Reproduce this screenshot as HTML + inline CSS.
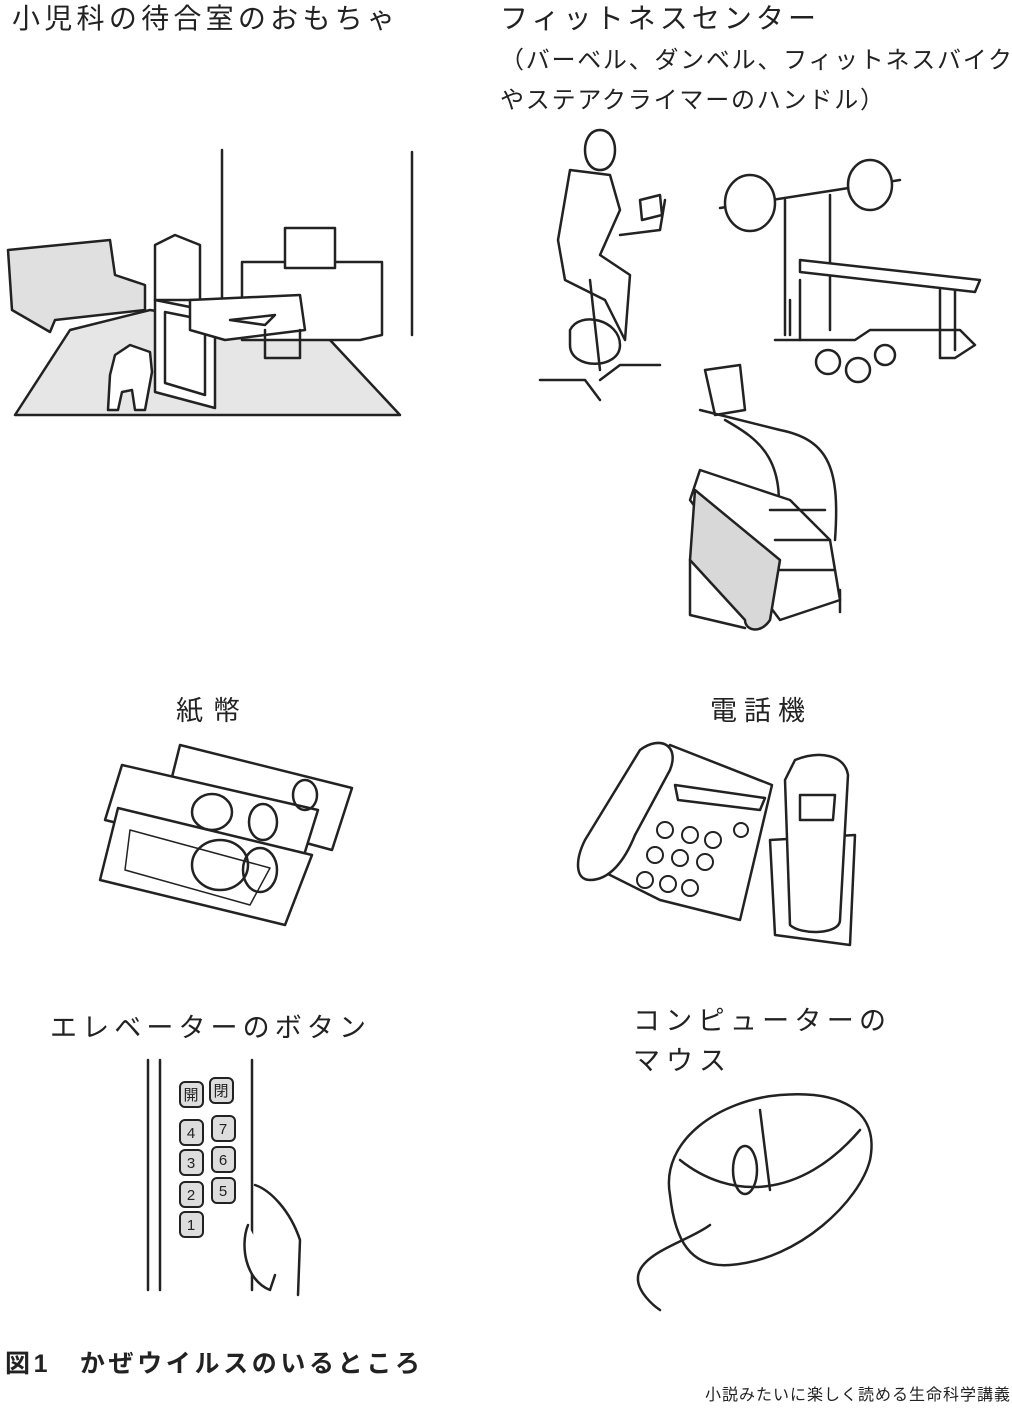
<!DOCTYPE html>
<html><head><meta charset="utf-8"><style>
html,body{margin:0;padding:0;background:#fff;}
body{width:1012px;height:1417px;overflow:hidden;}
svg text{font-family:"Liberation Sans","Noto Sans CJK JP",sans-serif;fill:#222;}
</style></head><body>
<svg width="1012" height="1417" viewBox="0 0 1012 1417" xmlns="http://www.w3.org/2000/svg">
<g stroke="#222" stroke-width="2.5" fill="none" stroke-linejoin="round" stroke-linecap="round">
<!-- waiting room -->
<path d="M222 150 V330 M412 152 V335"/>
<path d="M15 415 H400 L330 340 L150 310 L70 330 Z" fill="#e6e6e6"/>
<path d="M8 250 L110 240 L115 275 L145 285 L145 310 L55 320 L50 332 L12 310 Z" fill="#e0e0e0"/>
<path d="M242 262 H382 V335 L360 340 H242 Z" fill="#fff"/>
<path d="M285 228 H335 V268 H285 Z" fill="#fff"/>
<path d="M155 245 L175 235 L200 245 V300 H155 Z" fill="#fff"/>
<path d="M155 300 L215 312 V408 L155 392 Z" fill="#fff"/>
<path d="M165 312 L205 320 V395 L165 383 Z"/>
<path d="M190 300 L300 295 L305 330 L225 340 L190 330 Z" fill="#fff"/>
<path d="M265 330 V358 H300 V330"/>
<path d="M230 320 L275 315 L265 325 Z" fill="#fff"/>
<path d="M115 355 L130 345 L150 352 L152 372 L145 410 H135 L132 390 L122 392 L118 410 H108 L110 375 Z" fill="#fff"/>
<!-- bike -->
<path d="M600 130 C620 130 620 170 600 170 C580 170 580 130 600 130 Z" fill="#fff"/>
<path d="M570 170 L610 175 L620 210 L600 255 L630 275 L625 340 L605 300 L565 280 L558 240 Z" fill="#fff"/>
<path d="M540 380 H585 L600 400 M600 380 L620 365 H660"/>
<path d="M570 330 C580 310 620 320 620 345 C620 370 570 370 570 345 Z" fill="#fff"/>
<path d="M590 280 L600 370 M620 235 L660 230 L665 200"/>
<path d="M640 200 L660 195 L662 215 L642 220 Z" fill="#fff"/>
<!-- barbell -->
<path d="M720 208 L900 180"/>
<ellipse cx="750" cy="203" rx="25" ry="28" fill="#fff"/>
<ellipse cx="870" cy="185" rx="22" ry="25" fill="#fff"/>
<path d="M785 200 V335 M830 195 V330"/>
<path d="M800 260 L980 280 L975 292 L800 272 Z" fill="#fff"/>
<path d="M775 340 H855 L870 330 H960 L975 345 L955 358 H940 V290 M790 300 V335 M955 290 V350"/>
<path d="M800 280 L800 340" />
<circle cx="828" cy="362" r="12" fill="#fff"/><circle cx="858" cy="370" r="12" fill="#fff"/><circle cx="885" cy="355" r="10" fill="#fff"/>
<!-- stair climber -->
<path d="M705 370 L740 365 L745 410 L715 415 Z" fill="#fff"/>
<path d="M700 410 L780 430 C830 440 840 470 835 540 M725 420 C760 440 790 460 775 540"/>
<path d="M690 500 L700 470 L760 490 L790 500 L830 540 L840 600 L780 620 Z" fill="#fff"/>
<path d="M695 490 L780 560 L770 620 C760 635 745 630 745 620 L690 560 Z" fill="#d8d8d8"/>
<path d="M690 560 V615 L745 628 M840 590 V612"/>
<path d="M770 510 H825 M775 540 H830 M780 570 H835"/>
<!-- money -->
<g fill="#fff">
<path d="M180 745 L352 788 L332 850 L165 805 Z"/>
<path d="M122 765 L318 810 L300 868 L105 820 Z"/>
<path d="M118 808 L312 855 L285 925 L100 880 Z"/>
</g>
<ellipse cx="220" cy="865" rx="28" ry="25"/>
<ellipse cx="260" cy="870" rx="17" ry="22"/>
<ellipse cx="263" cy="822" rx="14" ry="18"/>
<ellipse cx="305" cy="795" rx="12" ry="15"/>
<ellipse cx="212" cy="812" rx="20" ry="18"/>
<path d="M130 830 L270 868 L250 905 L125 870 Z" stroke-width="1.5"/>
<!-- phone -->
<path d="M670 745 L772 785 L740 920 L660 900 L600 870 L620 820 Z" fill="#fff"/>
<path d="M640 750 C660 735 680 745 670 770 L635 835 C625 860 610 880 590 880 C575 880 575 860 585 840 Z" fill="#fff"/>
<path d="M675 785 L765 798 L760 810 L678 800 Z"/>
<g fill="#fff" stroke-width="2">
<circle cx="665" cy="830" r="8"/><circle cx="690" cy="835" r="8"/><circle cx="713" cy="840" r="8"/>
<circle cx="655" cy="855" r="8"/><circle cx="680" cy="858" r="8"/><circle cx="705" cy="862" r="8"/>
<circle cx="645" cy="880" r="8"/><circle cx="668" cy="884" r="8"/><circle cx="690" cy="888" r="8"/>
<circle cx="741" cy="830" r="7"/>
</g>
<path d="M770 840 L855 835 L850 945 L775 935 Z" fill="#fff"/>
<path d="M795 760 C820 750 845 755 848 775 L840 920 C840 935 800 935 790 925 L785 780 Z" fill="#fff"/>
<path d="M800 795 L835 795 L833 820 L800 820 Z"/>
<!-- elevator -->
<path d="M148 1060 V1290 M160 1060 V1290 M252 1060 V1290"/>
<g fill="#ddd" stroke-width="2">
<rect x="180" y="1082" width="23" height="25" rx="5"/><rect x="210" y="1078" width="23" height="25" rx="5"/>
<rect x="180" y="1120" width="23" height="25" rx="5"/><rect x="212" y="1116" width="23" height="25" rx="5"/>
<rect x="180" y="1150" width="23" height="25" rx="5"/><rect x="212" y="1147" width="23" height="25" rx="5"/>
<rect x="180" y="1182" width="23" height="25" rx="5"/><rect x="212" y="1178" width="23" height="25" rx="5"/>
<rect x="180" y="1212" width="23" height="25" rx="5"/>
</g>
<path d="M255 1185 C270 1190 290 1210 300 1240 L298 1295 M248 1225 C240 1245 245 1280 270 1290 L275 1275" fill="#fff"/>
<!-- mouse -->
<path d="M670 1195 C660 1140 720 1100 780 1095 C840 1090 880 1110 870 1160 C860 1200 800 1260 730 1265 C690 1268 675 1240 670 1195 Z" fill="#fff"/>
<path d="M680 1160 C730 1200 800 1200 860 1130 M760 1110 L770 1190"/>
<ellipse cx="745" cy="1170" rx="12" ry="24"/>
<path d="M710 1225 C690 1240 650 1250 640 1270 C630 1290 660 1310 660 1310"/>
</g>
<text x="12" y="28" font-size="28" textLength="383" lengthAdjust="spacing">小児科の待合室のおもちゃ</text>
<text x="500" y="28" font-size="28" textLength="316" lengthAdjust="spacing">フィットネスセンター</text>
<text x="500" y="68" font-size="24" textLength="512" lengthAdjust="spacing">（バーベル、ダンベル、フィットネスバイク</text>
<text x="500" y="108" font-size="24" textLength="384" lengthAdjust="spacing">やステアクライマーのハンドル）</text>
<text x="176" y="720" font-size="27" textLength="64" lengthAdjust="spacing">紙幣</text>
<text x="710" y="720" font-size="27" textLength="95" lengthAdjust="spacing">電話機</text>
<text x="50" y="1037" font-size="27" textLength="316" lengthAdjust="spacing">エレベーターのボタン</text>
<text x="633" y="1030" font-size="27" textLength="253" lengthAdjust="spacing">コンピューターの</text>
<text x="633" y="1070" font-size="27" textLength="93" lengthAdjust="spacing">マウス</text>
<g font-size="15" text-anchor="middle">
<text x="191" y="1100">開</text><text x="221" y="1096">閉</text>
<text x="191" y="1138">4</text><text x="223" y="1134">7</text>
<text x="191" y="1168">3</text><text x="223" y="1165">6</text>
<text x="191" y="1200">2</text><text x="223" y="1196">5</text>
<text x="191" y="1230">1</text>
</g>
<text x="5" y="1372" font-size="25" font-weight="bold" textLength="415" lengthAdjust="spacing">図1　かぜウイルスのいるところ</text>
<text x="705" y="1400" font-size="16" textLength="305" lengthAdjust="spacing">小説みたいに楽しく読める生命科学講義</text>
</svg>
</body></html>
